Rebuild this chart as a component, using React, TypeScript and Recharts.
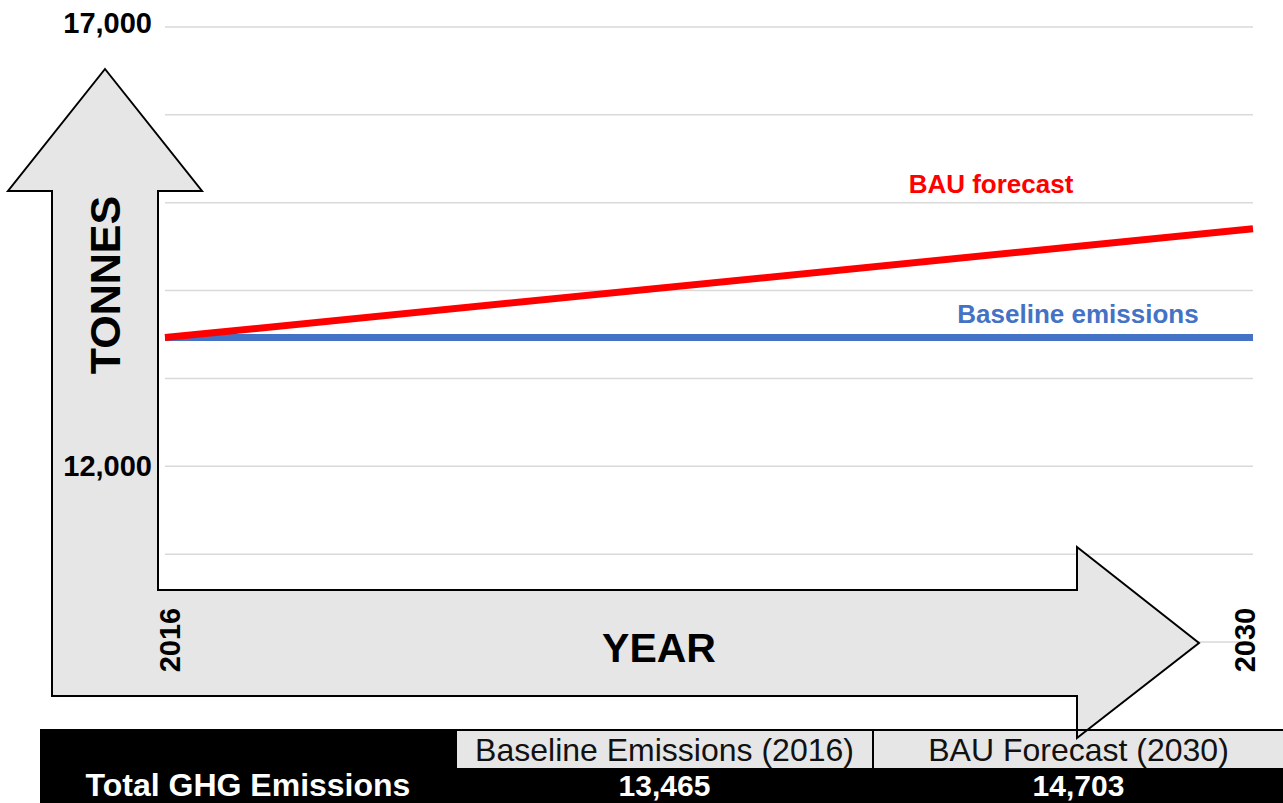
import React from 'react';
import { LineChart, Line, XAxis, YAxis, CartesianGrid, Customized } from 'recharts';

// chart values
const years = [2016, 2030];
const baselineEmissions = [13465, 13465];
const bauForecast = [13465, 14703];

// y axis: gridlines every 1,000, only two of them labelled
const yTicks = [10000, 11000, 12000, 13000, 14000, 15000, 16000, 17000];
const yLabelledTicks = [12000, 17000];

// summary table under the chart
const tableHeaders = ['Baseline Emissions (2016)', 'BAU Forecast (2030)'];
const tableRowLabel = 'Total GHG Emissions';
const tableValues = [13465, 14703];

const FONT = '"Liberation Sans", Arial, sans-serif';
const fmt = (v: number) => v.toLocaleString('en-US');

const chartData = years.map((year, i) => ({
  year,
  baseline: baselineEmissions[i],
  bau: bauForecast[i],
}));

const YTick = ({ x, y, payload }: any) => {
  if (!yLabelledTicks.includes(payload.value)) return <g />;
  const top = payload.value === yTicks[yTicks.length - 1];
  return (
    <text x={x} y={y + (top ? -4 : 0)} textAnchor="end" dominantBaseline="central"
      fontFamily={FONT} fontWeight="bold" fontSize={29} fill="#000">
      {fmt(payload.value)}
    </text>
  );
};

const XTick = ({ x, y, payload, index }: any) => {
  const cx = x + (index === 0 ? 5 : -8);
  const cy = y - 2;
  return (
    <text x={cx} y={cy} transform={`rotate(-90, ${cx}, ${cy})`} textAnchor="middle"
      dominantBaseline="central" fontFamily={FONT} fontWeight="bold" fontSize={29} fill="#000">
      {payload.value}
    </text>
  );
};

// label drawn next to the last point of a line
const endLabel = (text: string, color: string, dx: number, dy: number) => (props: any) => {
  if (props.index !== years.length - 1) return <g key={props.index} />;
  return (
    <text key={props.index} x={props.x + dx} y={props.y + dy} textAnchor="middle"
      fontFamily={FONT} fontWeight="bold" fontSize={26} fill={color}>
      {text}
    </text>
  );
};

// the big grey L shaped arrow, axis titles and the table
const Decor = () => {
  const arrow = [
    [105, 69], [202, 191], [158, 191], [158, 590], [1077, 590], [1077, 547],
    [1199, 643], [1077, 738], [1077, 696], [52, 696], [52, 191], [8, 191],
  ].map((p) => p.join(',')).join(' ');
  const cellX = [457, 874];
  const cellW = [415, 409];
  return (
    <g>
      <rect x={40} y={729} width={1243} height={74} fill="#000" />
      {cellX.map((cx, i) => (
        <rect key={i} x={cx} y={731} width={cellW[i]} height={37} fill="#e6e6e6" />
      ))}
      <polygon points={arrow} fill="#e6e6e6" stroke="#000" strokeWidth={2} strokeLinejoin="miter" />
      <line x1={40} x2={1283} y1={730} y2={730} stroke="#000" strokeWidth={2} />
      <text x={105} y={285} transform="rotate(-90, 105, 285)" textAnchor="middle" dominantBaseline="central"
        fontFamily={FONT} fontWeight="bold" fontSize={43} fill="#000">TONNES</text>
      <text x={659} y={662} textAnchor="middle" fontFamily={FONT} fontWeight="bold" fontSize={41} fill="#000">YEAR</text>
      {tableHeaders.map((h, i) => (
        <text key={h} x={cellX[i] + cellW[i] / 2} y={761} textAnchor="middle"
          fontFamily={FONT} fontSize={32} fill="#111">{h}</text>
      ))}
      <text x={248} y={796} textAnchor="middle" fontFamily={FONT} fontWeight="bold" fontSize={32} fill="#fff">
        {tableRowLabel}
      </text>
      {tableValues.map((v, i) => (
        <text key={i} x={cellX[i] + cellW[i] / 2} y={796} textAnchor="middle"
          fontFamily={FONT} fontWeight="bold" fontSize={30} fill="#fff">{fmt(v)}</text>
      ))}
    </g>
  );
};

export default function App() {
  return (
    <div style={{ position: 'absolute', left: 0, top: 0, width: 1283, height: 803, background: '#fff' }}>
      <LineChart width={1283} height={803} data={chartData}
        margin={{ top: 27, right: 30, bottom: 101, left: 65 }}>
        <CartesianGrid horizontal vertical={false} stroke="#d9d9d9" strokeWidth={1.5} />
        <Customized component={Decor} />
        <XAxis dataKey="year" type="number" domain={[years[0], years[years.length - 1]]} ticks={years}
          height={60} axisLine={false} tickLine={false} tickSize={0} tickMargin={0} tick={<XTick />} />
        <YAxis type="number" domain={[yTicks[0], yTicks[yTicks.length - 1]]} ticks={yTicks} interval={0}
          width={100} axisLine={false} tickLine={false} tickSize={0} tickMargin={13} tick={<YTick />} />
        <Line dataKey="baseline" stroke="#4472c4" strokeWidth={7} dot={false} activeDot={false}
          isAnimationActive={false} label={endLabel('Baseline emissions', '#4472c4', -175, -15)} />
        <Line dataKey="bau" stroke="#ff0000" strokeWidth={7} dot={false} activeDot={false}
          isAnimationActive={false} label={endLabel('BAU forecast', '#ff0000', -262, -36)} />
      </LineChart>
    </div>
  );
}
